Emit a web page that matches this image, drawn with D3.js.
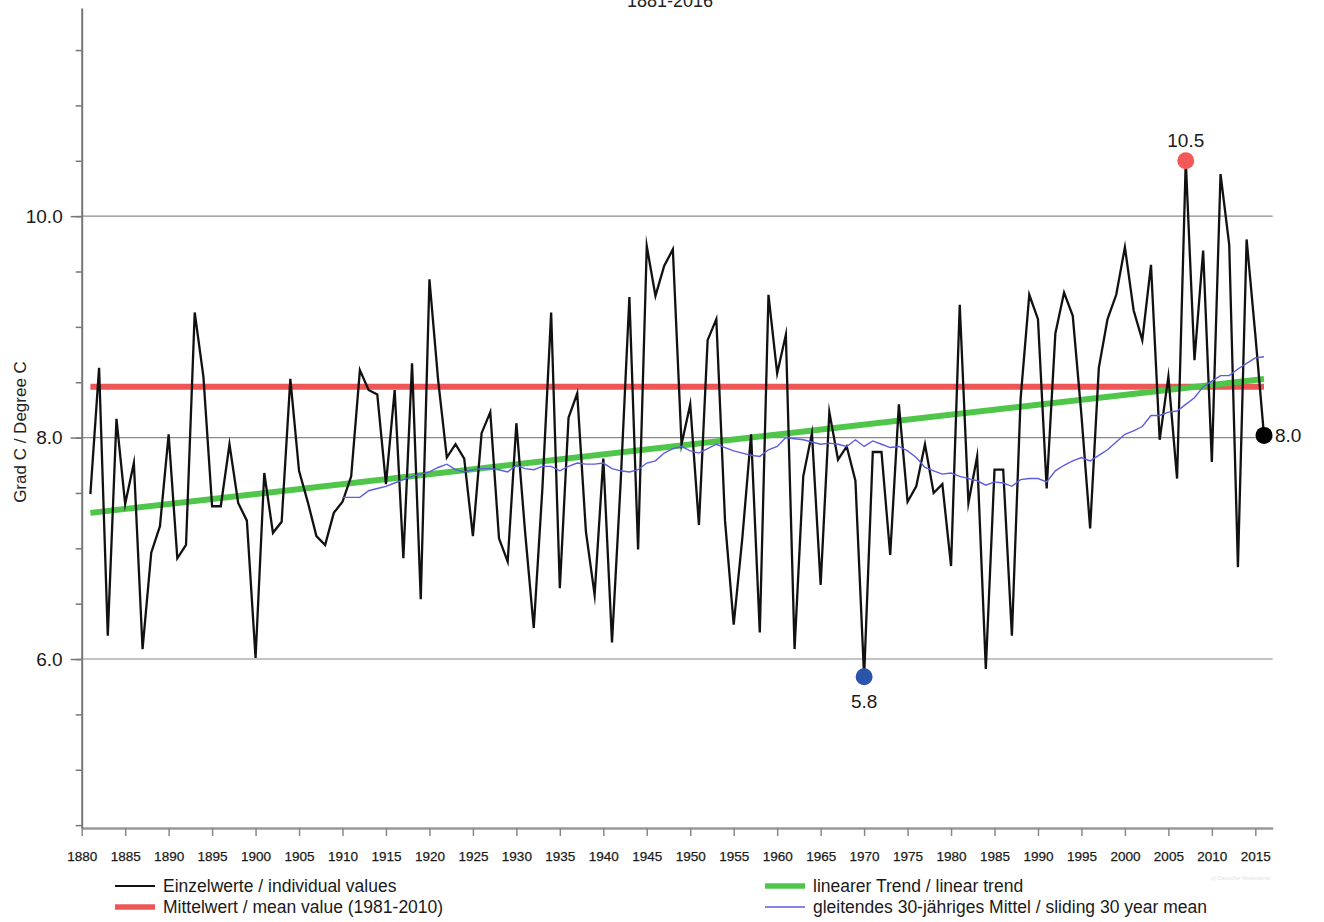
<!DOCTYPE html>
<html><head><meta charset="utf-8">
<script src="https://cdn.jsdelivr.net/npm/d3@7"></script>
<style>
body{margin:0;background:#fff}
svg{display:block}
text{font-family:"Liberation Sans",Arial,Helvetica,sans-serif}
</style>
</head><body>
<svg id="c" width="1324" height="922"></svg>
<script>
// ---------------- data ----------------
const chartTitle = "1881-2016";
const yAxisTitle = "Grad C / Degree C";
const xTickYears = [1880,1885,1890,1895,1900,1905,1910,1915,1920,1925,1930,1935,1940,1945,1950,1955,1960,1965,1970,1975,1980,1985,1990,1995,2000,2005,2010,2015];
const yMajorTicks = [6.0, 8.0, 10.0];
const yMinorTicks = [4.5,5.0,5.5,6.0,6.5,7.0,7.5,8.0,8.5,9.0,9.5,10.0,10.5,11.0,11.5];

// individual annual values, 1881..2016
const valueStartYear = 1881;
const annualValues = [
 7.49,8.63,6.21,8.17,7.40,7.77,6.09,6.96,7.20,8.03, // 1881-1890
 6.91,7.03,9.13,8.55,7.38,7.38,7.94,7.41,7.25,6.01, // 1891-1900
 7.68,7.14,7.24,8.53,7.70,7.42,7.11,7.03,7.32,7.42, // 1901-1910
 7.65,8.61,8.43,8.39,7.58,8.43,6.91,8.67,6.54,9.43, // 1911-1920
 8.52,7.82,7.94,7.81,7.11,8.04,8.23,7.09,6.88,8.13, // 1921-1930
 7.15,6.28,7.55,9.13,6.64,8.18,8.40,7.15,6.58,7.81, // 1931-1940
 6.15,7.60,9.27,6.99,9.73,9.28,9.55,9.70,7.94,8.30, // 1941-1950
 7.21,8.88,9.07,7.25,6.31,7.10,8.03,6.24,9.29,8.58, // 1951-1960
 8.93,6.09,7.65,8.04,6.67,8.23,7.80,7.92,7.61,5.84, // 1961-1970
 7.87,7.87,6.94,8.30,7.42,7.56,7.94,7.50,7.58,6.84, // 1971-1980
 9.20,7.41,7.83,5.91,7.71,7.71,6.21,8.35,9.29,9.07, // 1981-1990
 7.54,8.94,9.31,9.10,8.20,7.18,8.63,9.07,9.29,9.72, // 1991-2000
 9.15,8.88,9.56,7.98,8.55,7.63,10.50,8.70,9.69,7.78, // 2001-2010
 10.38,9.74,6.83,9.79,8.93,8.02                       // 2011-2016
];

// sliding 30-year mean, 1910..2016
const slidingStartYear = 1910;
const slidingMean = [
 7.46,7.46,7.46,7.52,7.54,7.56,7.59,7.62,7.65,7.67, // 1910-1919
 7.69,7.73,7.76,7.71,7.69,7.71,7.72,7.72,7.71,7.69, // 1920-1929
 7.75,7.72,7.71,7.74,7.74,7.70,7.74,7.77,7.76,7.76, // 1930-1939
 7.77,7.72,7.70,7.69,7.71,7.77,7.79,7.86,7.90,7.92, // 1940-1949
 7.88,7.86,7.90,7.94,7.91,7.88,7.86,7.84,7.83,7.89, // 1950-1959
 7.92,8.00,7.99,7.98,7.96,7.94,7.95,7.94,7.92,7.98, // 1960-1969
 7.92,7.97,7.94,7.91,7.92,7.88,7.82,7.73,7.70,7.67, // 1970-1979
 7.68,7.65,7.63,7.61,7.57,7.60,7.59,7.56,7.62,7.63, // 1980-1989
 7.63,7.60,7.70,7.75,7.79,7.82,7.79,7.84,7.89,7.96, // 1990-1999
 8.03,8.06,8.10,8.20,8.20,8.23,8.24,8.30,8.36,8.46, // 2000-2009
 8.51,8.56,8.56,8.62,8.67,8.72,8.73                  // 2010-2016
];

const trendYears = [1881, 2016];
const trendValues = [7.32, 8.53];
const meanLineYears = [1881, 2016];
const meanLineValues = [8.46, 8.46];

const highlightYears = [2007, 1970, 2016];
const highlightLabels = ["10.5", "5.8", "8.0"];

const legendLabels = [
  "Einzelwerte / individual values",
  "Mittelwert / mean value (1981-2010)",
  "linearer Trend / linear trend",
  "gleitendes 30-jähriges Mittel / sliding 30 year mean"
];
const creditText = "(c) Deutscher Wetterdienst";

// ---------------- drawing ----------------
const svg = d3.select("#c");
const x = d3.scaleLinear().domain([1880, 2017]).range([81.7, 1272.7]);
const y = d3.scaleLinear().domain([4.474, 11.88]).range([828, 8]);

const annual = annualValues.map((v, i) => ({year: valueStartYear + i, value: v}));
const sliding = slidingMean.map((v, i) => ({year: slidingStartYear + i, value: v}));
const trend = trendYears.map((yr, i) => ({year: yr, value: trendValues[i]}));
const meanL = meanLineYears.map((yr, i) => ({year: yr, value: meanLineValues[i]}));

const line = d3.line().x(d => x(d.year)).y(d => y(d.value));

// title (partly cut at top, as in the original)
svg.append("text").attr("x", 670).attr("y", 7).attr("text-anchor", "middle")
  .attr("font-size", 18).attr("fill", "#222").text(chartTitle);

// grid lines
svg.append("g").selectAll("line").data(yMajorTicks).join("line")
  .attr("x1", x(1880)).attr("x2", x(2017))
  .attr("y1", d => y(d)).attr("y2", d => y(d))
  .attr("stroke", "#8a8a8a").attr("stroke-width", 1.1);

// x axis
const xAxis = svg.append("g").attr("transform", `translate(0,${y(4.474)})`)
  .call(d3.axisBottom(x).tickValues(xTickYears).tickSize(8).tickSizeOuter(0).tickPadding(15).tickFormat(d3.format("d")));
xAxis.select(".domain").attr("stroke", "#999").attr("stroke-width", 2.5);
xAxis.selectAll(".tick line").attr("stroke", "#888").attr("stroke-width", 1.5);
xAxis.selectAll(".tick text").attr("font-size", 13.5).attr("fill", "#1a1a1a")
  .attr("font-family", '"Liberation Sans",Arial,sans-serif').attr("stroke", "#1a1a1a").attr("stroke-width", 0.25);

// y axis minor ticks
const yMinor = svg.append("g").attr("transform", `translate(${x(1880)},0)`)
  .call(d3.axisLeft(y).tickValues(yMinorTicks).tickSize(6).tickSizeOuter(0).tickFormat(""));
yMinor.select(".domain").attr("stroke", "#777").attr("stroke-width", 2);
yMinor.selectAll(".tick line").attr("stroke", "#777").attr("stroke-width", 1.5);
// y axis major ticks with labels
const yMajor = svg.append("g").attr("transform", `translate(${x(1880)},0)`)
  .call(d3.axisLeft(y).tickValues(yMajorTicks).tickSize(11).tickSizeOuter(0).tickPadding(8).tickFormat(d3.format(".1f")));
yMajor.select(".domain").remove();
yMajor.selectAll(".tick line").attr("stroke", "#777").attr("stroke-width", 1.5);
yMajor.selectAll(".tick text").attr("font-size", 19).attr("fill", "#1a1a1a")
  .attr("font-family", '"Liberation Sans",Arial,sans-serif');

// y axis title
svg.append("text").attr("transform", `translate(26,432) rotate(-90)`)
  .attr("text-anchor", "middle").attr("font-size", 17).attr("fill", "#222").text(yAxisTitle);

// series
svg.append("path").datum(meanL).attr("d", line).attr("fill", "none")
  .attr("stroke", "#ec5656").attr("stroke-width", 6);
svg.append("path").datum(trend).attr("d", line).attr("fill", "none")
  .attr("stroke", "#4fc64a").attr("stroke-width", 6);
svg.append("path").datum(annual).attr("d", line).attr("fill", "none")
  .attr("stroke", "#111").attr("stroke-width", 2.3).attr("stroke-linejoin", "miter").attr("stroke-miterlimit", 10);
svg.append("path").datum(sliding).attr("d", line).attr("fill", "none")
  .attr("stroke", "#5c5ce0").attr("stroke-width", 1.4);

// highlighted points
const dotColors = ["#f25a5a", "#2a55aa", "#000"];
const hl = highlightYears.map((yr, i) => ({year: yr, value: annualValues[yr - valueStartYear], label: highlightLabels[i], i}));
svg.append("g").selectAll("circle").data(hl).join("circle")
  .attr("cx", d => x(d.year)).attr("cy", d => y(d.value)).attr("r", 8.5)
  .attr("fill", d => dotColors[d.i]);
svg.append("g").selectAll("text").data(hl).join("text")
  .attr("x", d => d.i === 2 ? x(d.year) + 11 : x(d.year))
  .attr("y", d => d.i === 0 ? y(d.value) - 14 : d.i === 1 ? y(d.value) + 31 : y(d.value) + 7)
  .attr("text-anchor", d => d.i === 2 ? "start" : "middle")
  .attr("font-size", 19).attr("fill", "#1a1a1a").text(d => d.label);

// legend
const legendPos = [{x: 115, y: 886}, {x: 115, y: 907}, {x: 765, y: 886}, {x: 765, y: 907}];
const legendStroke = ["#111", "#ec5656", "#4fc64a", "#5c5ce0"];
const legendWidth = [2, 5.5, 5.5, 1.4];
const lg = svg.append("g");
legendLabels.forEach((lab, i) => {
  const p = legendPos[i];
  lg.append("line").attr("x1", p.x).attr("x2", p.x + 40).attr("y1", p.y).attr("y2", p.y)
    .attr("stroke", legendStroke[i]).attr("stroke-width", legendWidth[i]);
  lg.append("text").attr("x", p.x + 48).attr("y", p.y).attr("dy", "0.35em")
    .attr("font-size", 17.5).attr("fill", "#1a1a1a").text(lab);
});

// faint credit
svg.append("text").attr("x", 1270).attr("y", 880).attr("text-anchor", "end")
  .attr("font-size", 5).attr("fill", "#e2e2e2").text(creditText);
</script>
</body></html>
